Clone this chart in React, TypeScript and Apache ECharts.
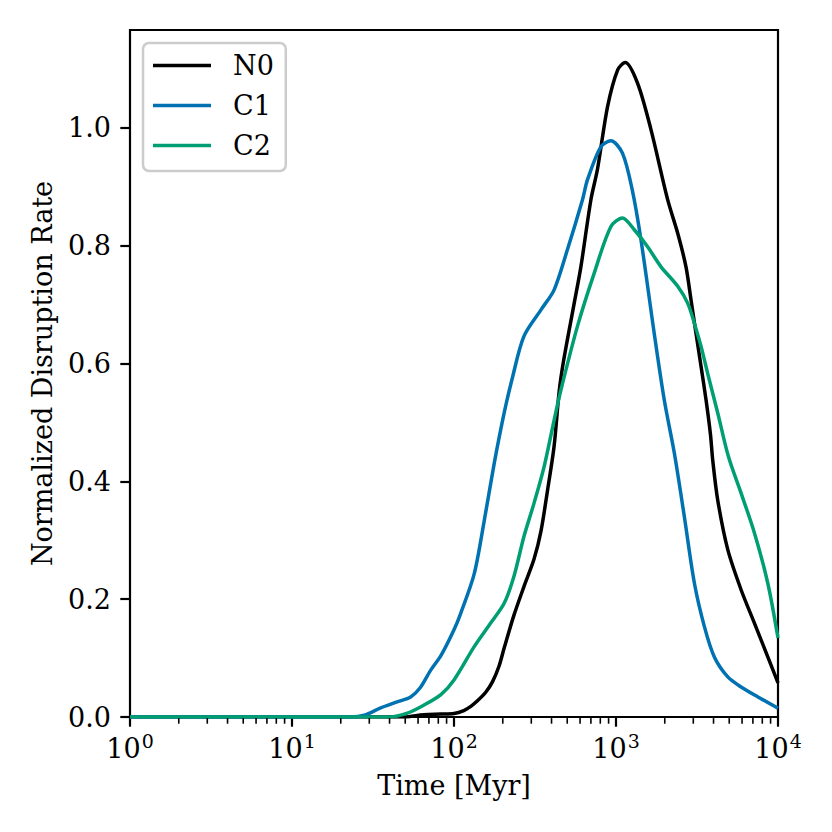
import React, { useEffect, useRef } from "react";
import * as echarts from "echarts";

const FONT = "'DejaVu Serif', serif";

const n0Time = [1, 30, 49, 65, 83, 100, 115, 127, 139, 157, 173, 190, 204, 234, 270, 312, 344, 378, 415, 446, 475, 550, 607, 700, 769, 887, 1023, 1140, 1358, 1644, 2084, 2404, 2704, 2904, 3119, 3350, 3597, 3828, 3954, 4246, 4898, 5916, 7161, 8650, 10000];
const n0Rate = [0, 0, 0, 0.004, 0.005, 0.006, 0.011, 0.018, 0.027, 0.042, 0.06, 0.087, 0.117, 0.172, 0.221, 0.268, 0.315, 0.385, 0.46, 0.553, 0.605, 0.7, 0.764, 0.878, 0.93, 1.036, 1.098, 1.111, 1.076, 0.997, 0.878, 0.821, 0.764, 0.708, 0.651, 0.595, 0.538, 0.48, 0.436, 0.368, 0.284, 0.216, 0.159, 0.102, 0.058];

const c1Time = [1, 23, 28, 35, 45, 54, 62, 72, 83, 100, 110, 133, 153, 177, 204, 229, 270, 344, 415, 501, 621, 667, 807, 929, 1096, 1259, 1426, 1722, 1986, 2291, 2642, 3048, 3516, 4046, 4898, 5916, 7516, 10000];
const c1Rate = [0, 0, 0.003, 0.015, 0.026, 0.034, 0.05, 0.08, 0.104, 0.148, 0.176, 0.242, 0.33, 0.43, 0.516, 0.575, 0.646, 0.691, 0.725, 0.793, 0.878, 0.912, 0.968, 0.978, 0.957, 0.895, 0.81, 0.651, 0.538, 0.448, 0.34, 0.227, 0.153, 0.102, 0.068, 0.051, 0.034, 0.015];

const c2Time = [1, 40, 51, 65, 83, 100, 133, 168, 204, 234, 270, 312, 360, 415, 457, 578, 733, 929, 1096, 1297, 1567, 1897, 2404, 2773, 3048, 3350, 3681, 4246, 4943, 5916, 7161, 8650, 10000];
const c2Rate = [0, 0, 0.006, 0.02, 0.038, 0.063, 0.119, 0.159, 0.193, 0.238, 0.306, 0.363, 0.425, 0.504, 0.555, 0.663, 0.753, 0.832, 0.847, 0.827, 0.798, 0.764, 0.731, 0.702, 0.668, 0.629, 0.583, 0.516, 0.442, 0.38, 0.312, 0.227, 0.134];

const seriesNames = ["N0", "C1", "C2"];
const seriesColors = ["#000000", "#0072B2", "#009E73"];
const yTicks = [0, 0.2, 0.4, 0.6, 0.8, 1.0];
const xMinorTicks = [2, 3, 4, 5, 6, 7, 8, 9, 20, 30, 40, 50, 60, 70, 80, 90, 200, 300, 400, 500, 600, 700, 800, 900, 2000, 3000, 4000, 5000, 6000, 7000, 8000, 9000];

const zip = (t: number[], v: number[]) => t.map((x, i) => [x, v[i]]);

export default function App() {
  const ref = useRef<HTMLDivElement>(null);
  useEffect(() => {
    const chart = echarts.init(ref.current!, null, { renderer: "svg", width: 832, height: 832 });
    const lineSeries = [zip(n0Time, n0Rate), zip(c1Time, c1Rate), zip(c2Time, c2Rate)].map((d, i) => ({
      type: "line",
      name: seriesNames[i],
      data: d,
      color: seriesColors[i],
      showSymbol: false,
      symbol: "none",
      smooth: 0.3,
      lineStyle: { width: 3.5, color: seriesColors[i] },
      z: 3 + i,
    }));
    chart.setOption({
      animation: false,
      backgroundColor: "#ffffff",
      textStyle: { fontFamily: FONT },
      grid: {
        left: 130,
        top: 30,
        right: 54,
        bottom: 115,
        show: true,
        borderColor: "#000",
        borderWidth: 2.2,
        backgroundColor: "transparent",
      },
      legend: {
        data: seriesNames,
        orient: "vertical",
        left: 143,
        top: 43,
        icon: "rect",
        itemWidth: 58,
        itemHeight: 3.5,
        itemGap: 13,
        textStyle: { fontFamily: FONT, fontSize: 27, color: "#000", padding: [0, 0, 0, 17] },
        backgroundColor: "rgba(255,255,255,0.8)",
        borderColor: "#cccccc",
        borderWidth: 2.5,
        borderRadius: 6,
        padding: [9, 12, 12, 10],
      },
      xAxis: {
        type: "log",
        logBase: 10,
        min: 1,
        max: 10000,
        name: "Time [Myr]",
        nameLocation: "middle",
        nameGap: 55,
        nameTextStyle: { fontFamily: FONT, fontSize: 27, color: "#000", verticalAlign: "top" },
        axisLine: { show: false },
        axisTick: { show: true, length: 9.7, lineStyle: { color: "#000", width: 2.2 } },
        minorTick: { show: false },
        splitLine: { show: false },
        axisLabel: {
          margin: 14,
          color: "#000",
          formatter: (v: number) => `{b|10}{s|${Math.round(Math.log10(v))}}`,
          rich: {
            b: { fontFamily: FONT, fontSize: 27, color: "#000", verticalAlign: "bottom" },
            s: { fontFamily: FONT, fontSize: 19, color: "#000", verticalAlign: "bottom", padding: [0, 0, 12, 1] },
          },
        },
      },
      yAxis: {
        type: "value",
        min: 0,
        max: 1.166,
        name: "Normalized Disruption Rate",
        nameLocation: "middle",
        nameGap: 74,
        nameTextStyle: { fontFamily: FONT, fontSize: 27, color: "#000" },
        axisLine: { show: false },
        axisTick: { show: true, length: 9.7, customValues: yTicks, lineStyle: { color: "#000", width: 2.2 } },
        splitLine: { show: false },
        axisLabel: {
          margin: 19,
          customValues: yTicks,
          fontFamily: FONT,
          fontSize: 27,
          color: "#000",
          formatter: (v: number) => v.toFixed(1),
        },
      },
      series: [
        ...lineSeries,
        {
          type: "custom",
          name: "minorTicks",
          silent: true,
          clip: false,
          data: xMinorTicks.map((v) => [v, 0]),
          renderItem: (_p: any, api: any) => {
            const p = api.coord([api.value(0), 0]);
            return {
              type: "line",
              shape: { x1: p[0], y1: p[1] + 1.1, x2: p[0], y2: p[1] + 6.7 },
              style: { stroke: "#000", lineWidth: 1.6 },
            };
          },
          z: 10,
        },
      ],
    });
    return () => chart.dispose();
  }, []);
  return (
    <div
      ref={ref}
      style={{ position: "absolute", left: 0, top: 0, width: 832, height: 832, background: "#fff" }}
    />
  );
}
